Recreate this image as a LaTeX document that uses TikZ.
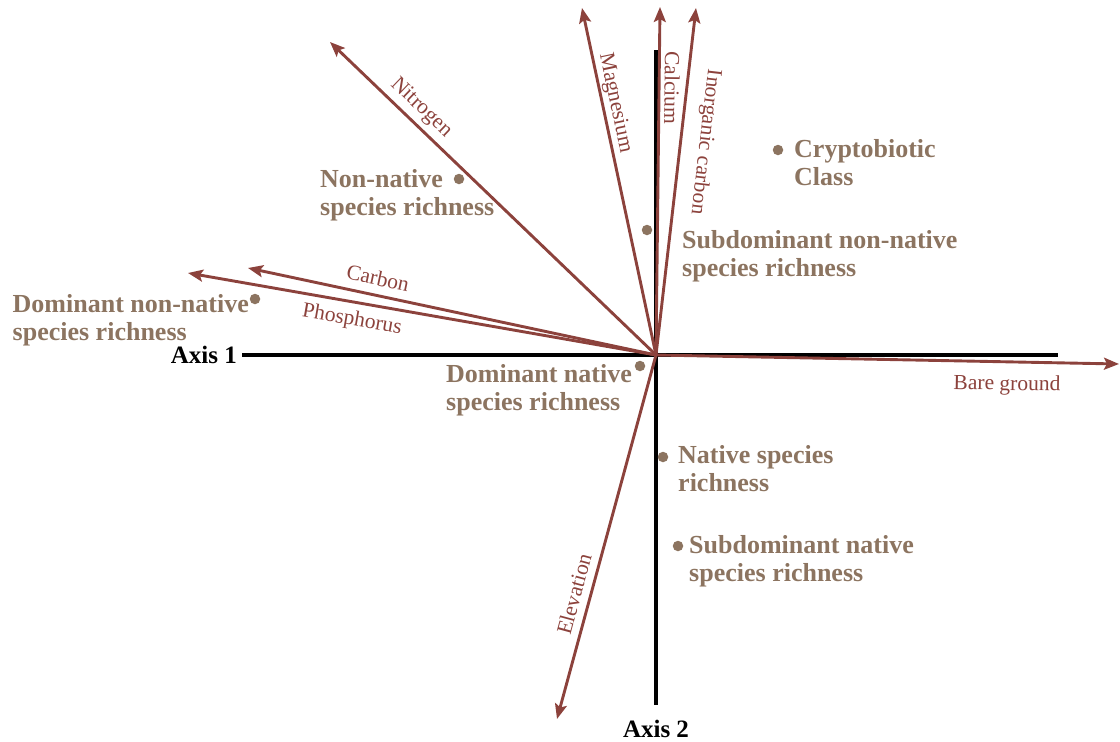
\documentclass[tikz,border=0pt]{standalone}
\usepackage{fontspec}
\setmainfont{Liberation Serif}
\usetikzlibrary{arrows.meta}
\definecolor{vecred}{RGB}{140,66,60}
\definecolor{ptbrown}{RGB}{140,116,96}
\tikzset{
  axisline/.style={line width=4pt, black},
  vec/.style={line width=2.9pt, vecred, -{Stealth[length=15pt,width=12pt,inset=3pt]}},
  veclbl/.style={text=vecred, font=\fontsize{21.5}{24}\selectfont, inner sep=0pt},
  axislbl/.style={text=black, font=\fontsize{25}{28}\selectfont\bfseries, inner sep=0pt},
  % anchored at the baseline of the second (last) line
  ptlbl/.style={text=ptbrown, font=\fontsize{26}{28.5}\selectfont\bfseries, align=left, inner sep=0pt, anchor=base west},
  pt/.style={circle, fill=ptbrown, inner sep=0pt, minimum size=10.5pt}
}
\begin{document}
\begin{tikzpicture}[x=1pt, y=-1pt]
\useasboundingbox (0,0) rectangle (1120,742);

% axes
\coordinate (O) at (656,355);
\coordinate (a1w) at (242,355);
\coordinate (a1e) at (1058,355);
\coordinate (a2n) at (656,50);
\coordinate (a2s) at (656,705);
\draw[axisline] (a1w) -- (a1e);
\draw[axisline] (a2n) -- (a2s);
\node[axislbl, anchor=base east] (ax1) at (237,363) {Axis 1};
\node[axislbl, anchor=base] (ax2) at (656,737) {Axis 2};

% environmental vectors
\coordinate (nitrogen) at (330,42);
\coordinate (magnesium) at (582,8);
\coordinate (calcium) at (660,7);
\coordinate (inorganic) at (696,8);
\coordinate (carbon) at (248,268);
\coordinate (phosphorus) at (188,273);
\coordinate (bare) at (1119,364);
\coordinate (elevation) at (557,719);
\foreach \t in {nitrogen,magnesium,calcium,inorganic,carbon,phosphorus,bare,elevation}
  \draw[vec] (O) -- (\t);

\node[veclbl, rotate=-43.8] (lnitrogen) at (421,108) {Nitrogen};
\node[veclbl, rotate=-78.0] (lmagnesium) at (615,103) {Magnesium};
\node[veclbl, rotate=-90.7] (lcalcium) at (672,88) {Calcium};
\node[veclbl, rotate=-96.6] (linorganic) at (705,142) {Inorganic carbon};
\node[veclbl, rotate=-12.0] (lcarbon) at (378,278) {Carbon};
\node[veclbl, rotate=-9.9] (lphosphorus) at (352,320) {Phosphorus};
\node[veclbl, rotate=-1.1] (lbare) at (1007,385) {Bare ground};
\node[veclbl, rotate=74.8] (lelevation) at (574,594) {Elevation};

% species-richness scores
\node[pt] (pdnn) at (255,299) {};
\node[ptlbl] (tdnn) at (12.5,340.5) {Dominant non-native\\species richness};
\node[pt] (pnn) at (459,179) {};
\node[ptlbl] (tnn) at (320,215.5) {Non-native\\species richness};
\node[pt] (psnn) at (647,230) {};
\node[ptlbl] (tsnn) at (682,276.5) {Subdominant non-native\\species richness};
\node[pt] (pcc) at (778,150) {};
\node[ptlbl] (tcc) at (794,185.5) {Cryptobiotic\\Class};
\node[pt] (pdn) at (640,366) {};
\node[ptlbl] (tdn) at (446,410.5) {Dominant native\\species richness};
\node[pt] (pn) at (663,457) {};
\node[ptlbl] (tn) at (678,491.5) {Native species\\richness};
\node[pt] (psn) at (678,546) {};
\node[ptlbl] (tsn) at (689,581.5) {Subdominant native\\species richness};
\end{tikzpicture}
\end{document}
